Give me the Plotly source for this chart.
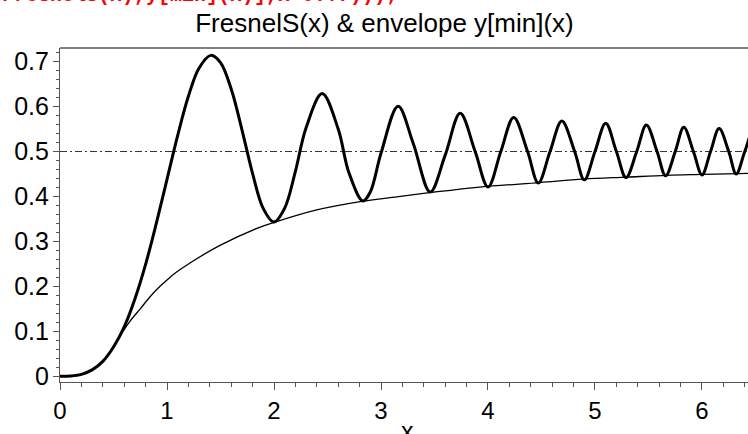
import plotly.graph_objects as go

# FresnelS(x) values
s_x = [0.0, 0.1, 0.2, 0.3, 0.4, 0.5, 0.6, 0.7, 0.8, 0.9, 1.0, 1.1, 1.2, 1.3, 1.41,
       1.5, 1.6, 1.7, 1.8, 1.9, 2.0, 2.1, 2.2, 2.3, 2.45, 2.6, 2.7, 2.83, 2.9, 3.0,
       3.16, 3.3, 3.46, 3.6, 3.74, 3.88, 4.0, 4.12, 4.24, 4.37, 4.47, 4.58, 4.69,
       4.81, 4.9, 5.0, 5.1, 5.2, 5.29, 5.39, 5.48, 5.58, 5.66, 5.75, 5.83, 5.92,
       6.0, 6.08, 6.16, 6.25, 6.32, 6.40, 6.48, 6.56]
s_y = [0.0, 0.0005, 0.004, 0.014, 0.033, 0.065, 0.110, 0.172, 0.249, 0.340, 0.438,
       0.536, 0.623, 0.686, 0.714, 0.698, 0.639, 0.549, 0.451, 0.373, 0.343, 0.374,
       0.456, 0.553, 0.629, 0.550, 0.453, 0.390, 0.410, 0.496, 0.601, 0.519, 0.410,
       0.492, 0.585, 0.500, 0.421, 0.500, 0.576, 0.500, 0.430, 0.500, 0.568, 0.500,
       0.437, 0.500, 0.563, 0.500, 0.442, 0.500, 0.559, 0.500, 0.446, 0.500, 0.554,
       0.500, 0.448, 0.500, 0.551, 0.500, 0.450, 0.500, 0.547, 0.500]

# envelope y[min](x)
env_x = [0.5, 0.56, 0.65, 0.75, 0.85, 0.935, 1.0, 1.08, 1.215, 1.495, 1.84,
         2.01, 2.4, 2.82, 3.2, 3.47, 3.925, 4.486, 4.89, 5.296, 5.67, 6.01, 6.34, 6.5]
env_y = [0.065, 0.089, 0.121, 0.150, 0.179, 0.200, 0.214, 0.230, 0.252, 0.291,
         0.329, 0.343, 0.370, 0.389, 0.401, 0.409, 0.421, 0.431, 0.4386, 0.443,
         0.447, 0.449, 0.451, 0.452]

half_x = [0.0, 6.6]
half_y = [0.5, 0.5]

x_ticks = [0, 1, 2, 3, 4, 5, 6]
y_ticks = [0, 0.1, 0.2, 0.3, 0.4, 0.5, 0.6, 0.7]
y_tick_text = ["0", "0.1", "0.2", "0.3", "0.4", "0.5", "0.6", "0.7"]

fig = go.Figure()
fig.add_trace(go.Scatter(x=half_x, y=half_y, mode="lines",
                         line=dict(color="#333333", width=1, dash="7px,3px,2px,3px")))
fig.add_trace(go.Scatter(x=env_x, y=env_y, mode="lines",
                         line=dict(color="black", width=1.3, shape="spline")))
fig.add_trace(go.Scatter(x=s_x, y=s_y, mode="lines",
                         line=dict(color="black", width=3, shape="spline", smoothing=1.0)))

font = "Liberation Sans, Arial, sans-serif"
fig.update_layout(
    width=748, height=434,
    margin=dict(l=60, r=0, t=48, b=52),
    paper_bgcolor="white", plot_bgcolor="white",
    showlegend=False,
    font=dict(family=font, size=25, color="black"),
    title=dict(text="FresnelS(x) & envelope y[min](x)", x=384.5 / 748, xanchor="center",
               y=1 - 22.5 / 434, yanchor="middle",
               font=dict(family=font, size=26, color="black")),
    xaxis=dict(range=[0, 6.43], showgrid=False, zeroline=False, showline=True,
               linecolor="#555555", linewidth=1.2, ticks="outside", ticklen=7,
               tickcolor="#555555", tickvals=x_ticks, ticklabelstandoff=0,
               tickfont=dict(size=24),
               minor=dict(dtick=0.2, ticks="outside", ticklen=4, tickcolor="#555555")),
    yaxis=dict(range=[-0.0129, 0.7304], showgrid=False, zeroline=False, showline=True,
               linecolor="#555555", linewidth=1.2, ticks="outside", ticklen=6,
               tickcolor="#555555", tickvals=y_ticks, ticktext=y_tick_text,
               ticklabelstandoff=-1,
               minor=dict(dtick=0.02, ticks="outside", ticklen=3, tickcolor="#555555")),
)
fig.add_shape(type="line", xref="paper", yref="paper", x0=0, x1=1, y0=1, y1=1,
              line=dict(color="black", width=1.2))
fig.add_annotation(text="x", xref="paper", yref="paper", x=(407 - 60) / 688,
                   y=-(432 - 382.5) / 334.5, xanchor="center", yanchor="middle",
                   showarrow=False, font=dict(family=font, size=25, color="black"))
fig.add_annotation(text="<b>FresnelS(x),y[min](x)],x=0..7)));</b>",
                   xref="paper", yref="paper", x=-60 / 688, y=1 + (48 + 4.5) / 334.5,
                   xanchor="left", yanchor="middle", showarrow=False,
                   font=dict(family="Liberation Mono, Courier New, monospace", size=20,
                             color="red"))
fig.write_html("out.html", config={"displayModeBar": False},
               post_script="document.body.style.margin='0';")
